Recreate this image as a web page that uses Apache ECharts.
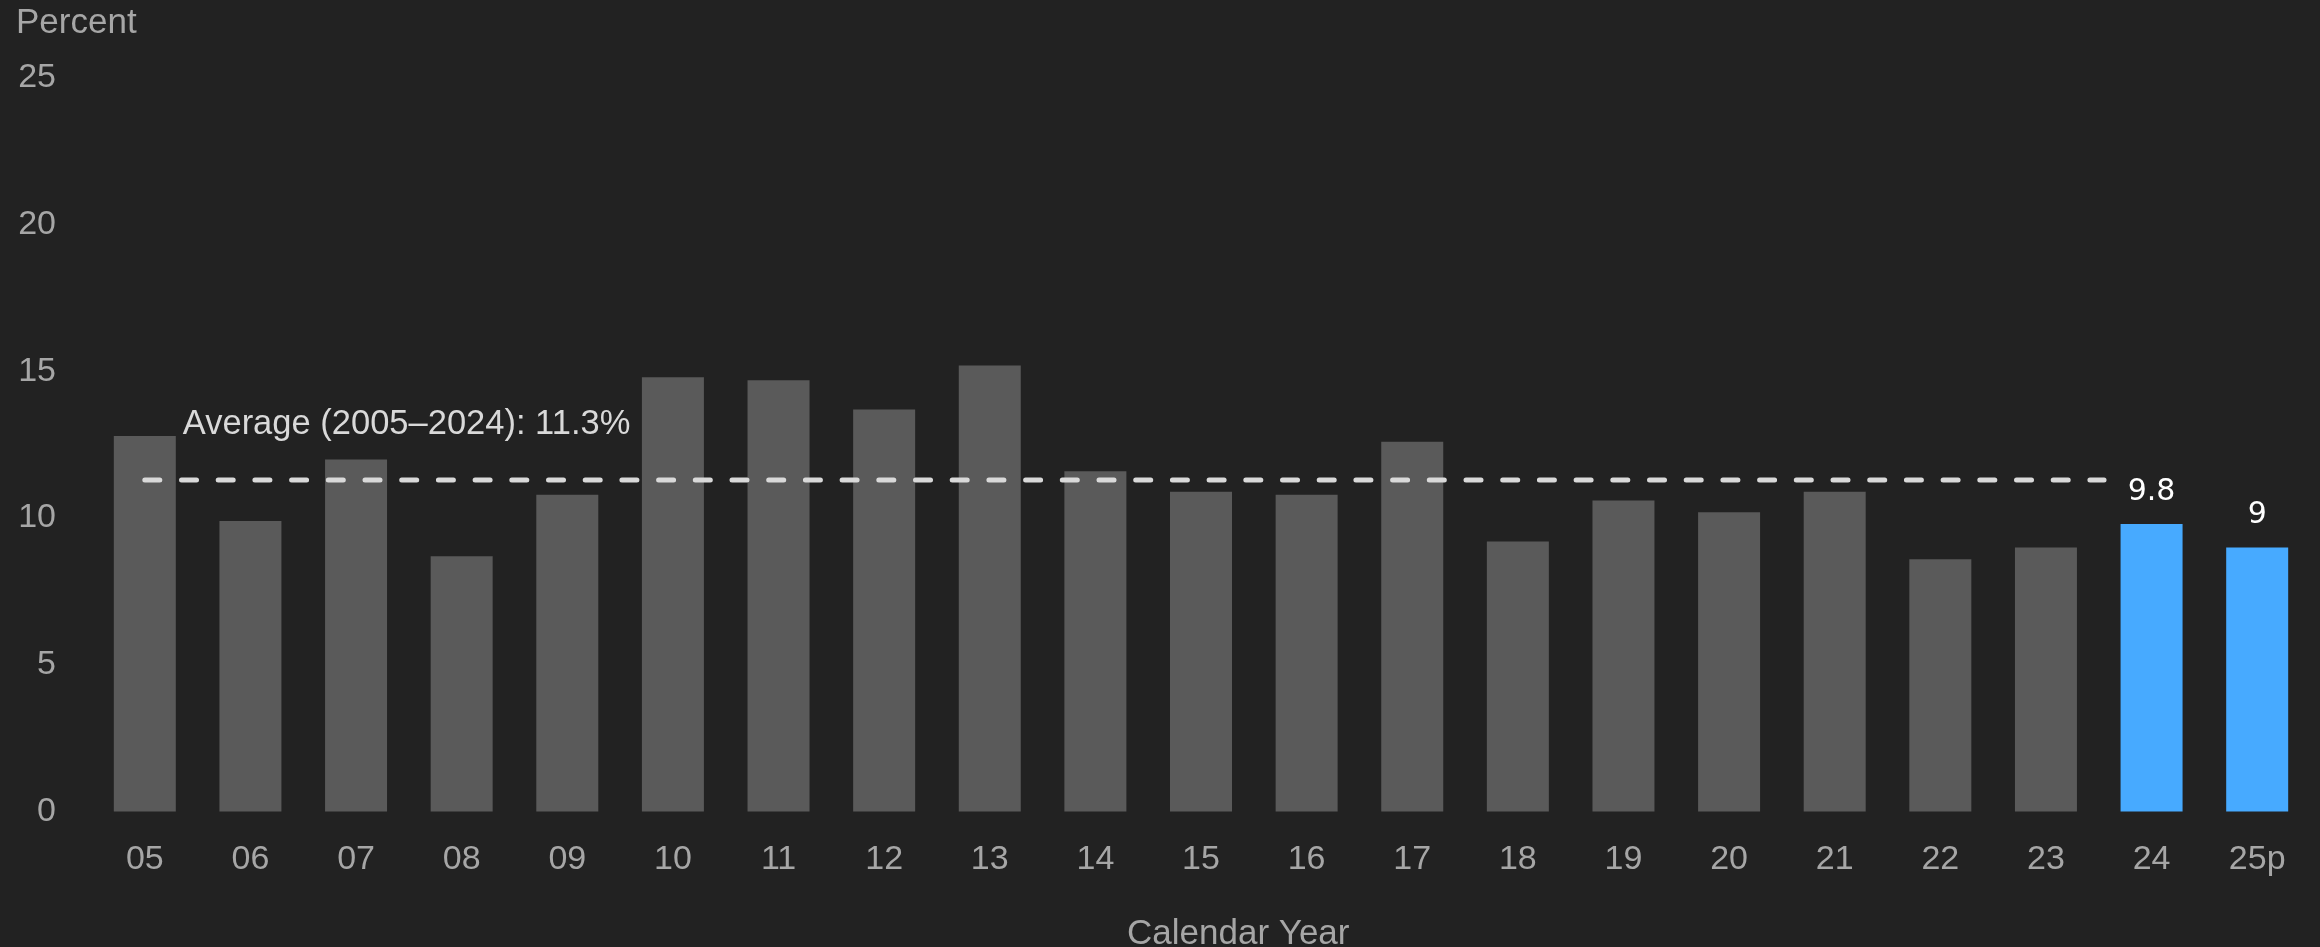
<!DOCTYPE html>
<html>
<head>
<meta charset="utf-8">
<title>Percent by Calendar Year</title>
<script src="https://cdn.jsdelivr.net/npm/echarts@6/dist/echarts.min.js"></script>
<style>
  html, body { margin: 0; padding: 0; background: #222222; }
  #chart { width: 2320px; height: 947px; }
</style>
</head>
<body>
<div id="chart"></div>
<script>
// Calendar years (two-digit), the last one is a projection
const years = ['05', '06', '07', '08', '09', '10', '11', '12', '13', '14', '15',
               '16', '17', '18', '19', '20', '21', '22', '23', '24', '25p'];
// Percent per year
const percent = [12.8, 9.9, 12.0, 8.7, 10.8, 14.8, 14.7, 13.7, 15.2, 11.6, 10.9,
                 10.8, 12.6, 9.2, 10.6, 10.2, 10.9, 8.6, 9.0, 9.8, 9.0];
// Years drawn in the accent colour with their value shown
const highlightYears = ['24', '25p'];
// Average over 2005–2024
const averageValue = 11.3;
const averageText = 'Average (2005–2024): 11.3%';
// Span of the average line in category units (first bar centre to just past '23')
const averageSpan = [0, 18.55];
// Y axis ticks
const yTicks = [0, 5, 10, 15, 20, 25];

const GREY = '#5a5a5a';
const BLUE = '#47aaff';
const AXIS_TEXT = '#a6a6a6';

const chart = echarts.init(document.getElementById('chart'), null, { renderer: 'canvas' });

const barData = years.map((y, i) => {
  const hi = highlightYears.includes(y);
  return {
    value: percent[i],
    itemStyle: { color: hi ? BLUE : GREY },
    label: { show: hi }
  };
});

const option = {
  backgroundColor: '#222222',
  animation: false,
  title: [
    {
      text: 'Percent',
      left: 11, top: 1,
      textStyle: { color: AXIS_TEXT, fontSize: 35, fontWeight: 'normal', fontFamily: 'Liberation Sans' }
    },
    {
      text: 'Calendar Year',
      left: 1122, top: 912,
      textStyle: { color: AXIS_TEXT, fontSize: 35, fontWeight: 'normal', fontFamily: 'Liberation Sans' }
    }
  ],
  grid: { left: 92, right: 10, top: 78, bottom: 135.5, containLabel: false },
  xAxis: [
    {
      type: 'category',
      data: years,
      axisLine: { show: false },
      axisTick: { show: false },
      axisLabel: { color: AXIS_TEXT, fontSize: 34, fontFamily: 'Liberation Sans', margin: 31 }
    },
    {
      type: 'value',
      min: -0.5, max: years.length - 0.5,
      show: false
    }
  ],
  yAxis: {
    type: 'value',
    min: yTicks[0], max: yTicks[yTicks.length - 1], interval: 5,
    axisLine: { show: false },
    axisTick: { show: false },
    splitLine: { show: false },
    axisLabel: { color: AXIS_TEXT, fontSize: 34, fontFamily: 'Liberation Sans', margin: 36 }
  },
  series: [
    {
      type: 'bar',
      data: barData,
      barWidth: 62,
      label: {
        position: 'top',
        distance: 17,
        color: '#ffffff',
        fontSize: 30,
        fontFamily: 'DejaVu Sans'
      }
    },
    {
      type: 'line',
      xAxisIndex: 1,
      data: [
        {
          value: [averageSpan[0], averageValue],
          label: {
            show: true,
            formatter: averageText,
            position: 'top',
            distance: 0,
            align: 'left',
            verticalAlign: 'middle',
            offset: [38, -55],
            color: '#d9d9d9',
            fontSize: 34.5,
            fontFamily: 'Liberation Sans'
          }
        },
        { value: [averageSpan[1], averageValue] }
      ],
      symbol: 'circle',
      symbolSize: 0,
      showSymbol: true,
      lineStyle: { color: '#d9d9d9', width: 5, type: [15, 21.7], cap: 'round' },
      itemStyle: { color: '#d9d9d9' },
      z: 5
    }
  ]
};

chart.setOption(option);
</script>
</body>
</html>
